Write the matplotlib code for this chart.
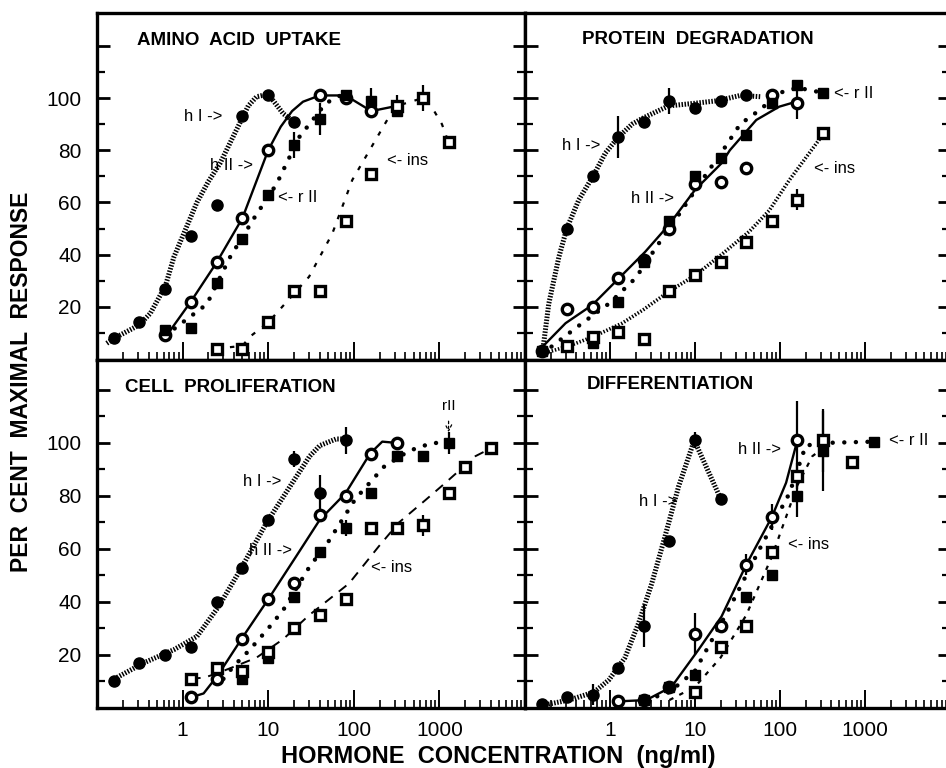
import matplotlib
matplotlib.use("Agg")
import matplotlib.pyplot as plt
from matplotlib.ticker import LogLocator, NullFormatter

plt.rcParams['font.family'] = ['Liberation Sans', 'DejaVu Sans']

# ---- AMINO ACID UPTAKE (top left) ----
aa_hI_x = [0.16, 0.31, 0.63, 1.25, 2.5, 5, 10, 20]
aa_hI_y = [8, 14, 27, 47, 59, 93, 101, 91]
aa_hI_cx = [0.13, 0.16, 0.31, 0.42, 0.63, 0.79, 1.0, 1.47, 2.0, 2.74, 4.0, 5.85, 7.3, 10, 15, 18]
aa_hI_cy = [6, 8, 13, 17.5, 28, 39, 47, 60, 68, 75, 86, 97, 100.5, 101.5, 94, 92]

aa_hII_x = [0.63, 1.25, 2.5, 5, 10, 40, 80, 160]
aa_hII_y = [9, 22, 37, 54, 80, 101, 100, 95]
aa_hII_cx = [0.72, 1.25, 2.5, 5, 10, 14, 19, 25.5, 40, 80, 160, 320]
aa_hII_cy = [11, 22, 37, 54, 80, 89, 95, 98.6, 101, 101, 95, 97]

aa_rII_x = [0.63, 1.25, 2.5, 5, 10, 20, 40, 80, 160, 320]
aa_rII_y = [11, 12, 29, 46, 63, 82, 92, 101, 99, 95]
aa_rII_e = [0, 0, 0, 0, 0, 5, 6, 0, 5, 0]
aa_rII_cx = [0.63, 1.0, 1.92, 3.58, 7, 12.5, 23, 47, 70]
aa_rII_cy = [9, 14, 21, 39, 54.5, 67, 85, 98, 101]

aa_ins_x = [2.5, 5, 10, 20, 40, 80, 160, 320, 640, 1280]
aa_ins_y = [4, 4, 14, 26, 26, 53, 71, 97, 100, 83]
aa_ins_e = [0, 0, 0, 0, 0, 0, 0, 4, 5, 0]
aa_ins_cx = [2.5, 5, 6.1, 10, 20, 30, 56, 96, 180, 260, 320, 640, 800, 1070, 1280]
aa_ins_cy = [4, 5, 8.5, 14, 25, 31.5, 48, 68.6, 84, 93, 97, 100, 97, 90, 83]

# ---- PROTEIN DEGRADATION (top right) ----
pd_hI_x = [0.16, 0.31, 0.63, 1.25, 2.5, 5, 10, 20, 40, 80]
pd_hI_y = [3, 50, 70, 85, 91, 99, 96, 99, 101, 101]
pd_hI_e = [0, 0, 0, 8, 0, 5, 0, 0, 0, 0]
pd_hI_cx = [0.16, 0.19, 0.25, 0.31, 0.43, 0.63, 0.885, 1.25, 1.82, 2.5, 4.9, 10, 18.7, 34, 60]
pd_hI_cy = [2, 21, 39, 50, 61, 70, 79, 85, 90, 92.5, 97, 98, 99, 101, 100.5]

pd_hII_x = [0.16, 0.31, 0.63, 1.25, 2.5, 5, 10, 20, 40, 80, 160]
pd_hII_y = [3, 19, 20, 31, 38, 50, 67, 68, 73, 101, 98]
pd_hII_e = [0, 0, 0, 0, 0, 0, 0, 0, 0, 0, 6]
pd_hII_cx = [0.147, 0.3, 0.62, 1.27, 2.6, 4.9, 10, 20.5, 25.7, 52.6, 98, 155]
pd_hII_cy = [3.4, 13.7, 20.7, 30.9, 41.1, 51.3, 64.8, 75, 80, 91.6, 96.7, 98.6]

pd_rII_x = [0.16, 0.63, 1.25, 2.5, 5, 10, 20, 40, 80, 160, 320]
pd_rII_y = [3, 6, 22, 37, 53, 70, 77, 86, 98, 105, 102]
pd_rII_cx = [0.16, 0.23, 0.47, 0.98, 2, 3.7, 7, 13, 22.4, 34, 57.6, 99, 160, 320]
pd_rII_cy = [2, 6, 13.7, 21.3, 31, 44, 57, 70, 81, 90, 95.4, 102, 104, 102]

pd_ins_x = [0.31, 0.63, 1.25, 2.5, 5, 10, 20, 40, 80, 160, 320]
pd_ins_y = [5, 8.5, 10.5, 7.5, 26, 32, 37, 45, 53, 61, 86.5]
pd_ins_e = [0, 0, 0, 0, 0, 0, 0, 0, 0, 4, 0]
pd_ins_cx = [0.16, 0.33, 0.63, 1.39, 2.5, 5, 10, 20.5, 44, 75, 129, 222, 320]
pd_ins_cy = [2, 5, 8.5, 13.7, 19, 26, 32, 40, 49, 57, 68.6, 79, 86]

# ---- CELL PROLIFERATION (bottom left) ----
cp_hI_x = [0.16, 0.31, 0.63, 1.25, 2.5, 5, 10, 20, 40, 80]
cp_hI_y = [10, 17, 20, 23, 40, 53, 71, 94, 81, 101]
cp_hI_e = [0, 0, 0, 0, 0, 0, 0, 3, 7, 5]
cp_hI_cx = [0.16, 0.35, 0.79, 1.47, 2.6, 4.7, 9.6, 17.9, 30.5, 40, 62, 80]
cp_hI_cy = [11, 17, 22, 27, 38, 52, 70, 83.5, 95, 99, 101.5, 101.5]

cp_hII_x = [1.25, 2.5, 5, 10, 20, 40, 80, 160, 320]
cp_hII_y = [4, 11, 26, 41, 47, 73, 80, 96, 100]
cp_hII_cx = [1.25, 1.76, 2.6, 5.1, 10, 21, 40, 80, 155, 215, 320]
cp_hII_cy = [4, 5.5, 12.5, 27, 41, 57, 71, 81, 96, 100.5, 100]

cp_rII_x = [5, 10, 20, 40, 80, 160, 320, 640, 1280]
cp_rII_y = [11, 19, 42, 59, 68, 81, 95, 95, 100]
cp_rII_e = [0, 0, 0, 0, 3, 0, 0, 0, 4]
cp_rII_cx = [3.0, 3.9, 6.1, 10, 15, 30, 51, 105, 225, 440, 820, 1280]
cp_rII_cy = [11, 15.6, 22, 30, 37, 53, 63, 79, 91, 97, 100, 100]

cp_ins_x = [1.25, 2.5, 5, 10, 20, 40, 80, 160, 320, 640, 1280, 2000, 4000]
cp_ins_y = [11, 15, 14, 21, 30, 35, 41, 68, 68, 69, 81, 91, 98]
cp_ins_e = [0, 0, 0, 0, 0, 0, 0, 0, 0, 4, 0, 0, 0]
cp_ins_cx = [1.25, 1.8, 2.5, 4.3, 7.3, 15, 30, 47, 88, 196, 337, 690, 1180, 2630, 4000]
cp_ins_cy = [11, 11.5, 13, 16, 19, 26, 35, 40, 47, 61, 70, 78.5, 85, 95, 98]

# ---- DIFFERENTIATION (bottom right) ----
df_hI_x = [0.16, 0.31, 0.63, 1.25, 2.5, 5, 10, 20]
df_hI_y = [1.5, 4, 5, 15, 31, 63, 101, 79]
df_hI_e = [0, 0, 4, 0, 8, 2, 3, 0]
df_hI_cx = [0.16, 0.33, 0.65, 0.97, 1.5, 2.17, 3.1, 4.46, 6.4, 9.8, 20]
df_hI_cy = [1, 3, 6, 10.6, 19, 32, 47, 65, 83.5, 101, 79]

df_hII_x = [1.25, 2.5, 5, 10, 20, 40, 80, 160]
df_hII_y = [2.5, 3, 8, 28, 31, 54, 72, 101]
df_hII_e = [0, 0, 0, 8, 0, 4, 5, 15]
df_hII_cx = [1.25, 2.67, 5.3, 11, 20.5, 40, 80, 118, 160]
df_hII_cy = [2.5, 3, 8, 22, 34.5, 54, 72, 85, 101]

df_rII_x = [2.5, 5, 10, 40, 80, 160, 320, 1280]
df_rII_y = [3, 8, 12.5, 42, 50, 80, 97, 100.5]
df_rII_e = [0, 0, 0, 0, 0, 8, 15, 0]
df_rII_cx = [2.67, 5, 10, 25.7, 57.6, 129, 201, 320, 1280]
df_rII_cy = [3, 6, 14, 38, 60, 81, 99, 100, 100.5]

df_ins_x = [10, 20, 40, 80, 160, 320, 700]
df_ins_y = [6, 23, 31, 59, 87.5, 101, 93]
df_ins_e = [0, 0, 0, 0, 5, 12, 0]
df_ins_cx = [5, 10, 20, 40, 80, 160, 240, 320]
df_ins_cy = [3, 8, 19, 35, 57, 84, 95, 98]

y_major = [20, 40, 60, 80, 100, 120]
y_major_labels = ['20', '40', '60', '80', '100', '']
y_minor = [10, 30, 50, 70, 90, 110]
x_major = [0.1, 1, 10, 100, 1000, 10000]
x_major_labels = ['', '1', '10', '100', '1000', '']

markers = {
    'hI': dict(marker='o', ms=8, mfc='black', mec='black', mew=1),
    'hII': dict(marker='o', ms=7.5, mfc='white', mec='black', mew=2.4),
    'rII': dict(marker='s', ms=7, mfc='black', mec='black', mew=1),
    'ins': dict(marker='s', ms=7.5, mfc='white', mec='black', mew=2.4),
}

hatch = dict(ls=(0, (0.3, 0.3)), lw=3.6)
solid = dict(ls='-', lw=1.7)
dots = dict(ls=(0, (0.01, 2.6)), lw=3.2, dash_capstyle='round')


def series(ax, x, y, cx, cy, kind, line, err=None):
    ax.plot(cx, cy, color='black', zorder=2, **line)
    if err is not None:
        xe = [a for a, e in zip(x, err) if e > 0]
        ye = [b for b, e in zip(y, err) if e > 0]
        ee = [e for e in err if e > 0]
        ax.errorbar(xe, ye, yerr=ee, fmt='none', ecolor='black', elinewidth=1.6, capsize=0, zorder=3)
    ax.plot(x, y, ls='none', zorder=4, **markers[kind])


def setup(ax, ylim, left_labels, bottom_labels):
    ax.set_xscale('log')
    ax.set_xlim(0.1, 9500)
    ax.set_ylim(*ylim)
    for s in ax.spines.values():
        s.set_linewidth(2.4)
    ax.set_yticks(y_major)
    ax.set_yticks(y_minor, minor=True)
    ax.set_yticklabels(y_major_labels if left_labels else [''] * len(y_major))
    ax.set_xticks(x_major)
    ax.set_xticklabels(x_major_labels if bottom_labels else [''] * len(x_major))
    ax.xaxis.set_minor_locator(LogLocator(base=10, subs=range(2, 10), numticks=20))
    ax.xaxis.set_minor_formatter(NullFormatter())
    ax.tick_params(axis='y', which='both', direction='in', left=True, right=True)
    ax.tick_params(axis='y', which='major', length=9, width=2.0, pad=11, labelsize=15)
    ax.tick_params(axis='y', which='minor', length=6, width=1.6)
    ax.tick_params(axis='x', which='both', direction='in', top=False, bottom=True)
    ax.tick_params(axis='x', which='major', length=13, width=1.4, pad=9, labelsize=15)
    ax.tick_params(axis='x', which='minor', length=6, width=1.2)


fig = plt.figure(figsize=(9.46, 7.68), dpi=100)
W, H = 946.0, 768.0
ax_aa = fig.add_axes([97 / W, 1 - 360 / H, 428 / W, 347 / H])
ax_pd = fig.add_axes([525 / W, 1 - 360 / H, 425 / W, 347 / H])
ax_cp = fig.add_axes([97 / W, 1 - 708 / H, 428 / W, 348 / H])
ax_df = fig.add_axes([525 / W, 1 - 708 / H, 425 / W, 348 / H])

setup(ax_aa, (-0.4, 132.6), True, False)
setup(ax_pd, (-0.4, 132.6), False, False)
setup(ax_cp, (0, 131.3), True, True)
setup(ax_df, (0, 131.3), False, True)

title_kw = dict(fontsize=13.5, fontweight='bold', va='center', ha='left')
ax_aa.text(0.094, 0.922, 'AMINO  ACID  UPTAKE', transform=ax_aa.transAxes, **title_kw)
ax_pd.text(0.134, 0.925, 'PROTEIN  DEGRADATION', transform=ax_pd.transAxes, **title_kw)
ax_cp.text(0.065, 0.922, 'CELL  PROLIFERATION', transform=ax_cp.transAxes, **title_kw)
ax_df.text(0.146, 0.931, 'DIFFERENTIATION', transform=ax_df.transAxes, **title_kw)

# amino acid uptake
series(ax_aa, aa_hI_x, aa_hI_y, aa_hI_cx, aa_hI_cy, 'hI', hatch)
series(ax_aa, aa_hII_x, aa_hII_y, aa_hII_cx, aa_hII_cy, 'hII', solid)
series(ax_aa, aa_rII_x, aa_rII_y, aa_rII_cx, aa_rII_cy, 'rII', dots, aa_rII_e)
series(ax_aa, aa_ins_x, aa_ins_y, aa_ins_cx, aa_ins_cy, 'ins', dict(ls=(0, (2, 4)), lw=1.6), aa_ins_e)

# protein degradation
series(ax_pd, pd_hI_x, pd_hI_y, pd_hI_cx, pd_hI_cy, 'hI', hatch, pd_hI_e)
series(ax_pd, pd_hII_x, pd_hII_y, pd_hII_cx, pd_hII_cy, 'hII', solid, pd_hII_e)
series(ax_pd, pd_rII_x, pd_rII_y, pd_rII_cx, pd_rII_cy, 'rII', dots)
series(ax_pd, pd_ins_x, pd_ins_y, pd_ins_cx, pd_ins_cy, 'ins', dict(ls=(0, (0.4, 0.5)), lw=2.6), pd_ins_e)

# cell proliferation
series(ax_cp, cp_hI_x, cp_hI_y, cp_hI_cx, cp_hI_cy, 'hI', hatch, cp_hI_e)
series(ax_cp, cp_hII_x, cp_hII_y, cp_hII_cx, cp_hII_cy, 'hII', solid)
series(ax_cp, cp_rII_x, cp_rII_y, cp_rII_cx, cp_rII_cy, 'rII', dots, cp_rII_e)
series(ax_cp, cp_ins_x, cp_ins_y, cp_ins_cx, cp_ins_cy, 'ins', dict(ls=(0, (5, 4)), lw=1.4), cp_ins_e)

# differentiation
series(ax_df, df_hI_x, df_hI_y, df_hI_cx, df_hI_cy, 'hI', hatch, df_hI_e)
series(ax_df, df_hII_x, df_hII_y, df_hII_cx, df_hII_cy, 'hII', solid, df_hII_e)
series(ax_df, df_rII_x, df_rII_y, df_rII_cx, df_rII_cy, 'rII', dots, df_rII_e)
series(ax_df, df_ins_x, df_ins_y, df_ins_cx, df_ins_cy, 'ins', dict(ls=(0, (2, 3)), lw=1.6), df_ins_e)

lab = dict(fontsize=12, va='center')
ax_aa.text(2.95, 93, 'h I ->', ha='right', **lab)
ax_aa.text(6.6, 74, 'h II ->', ha='right', **lab)
ax_aa.text(12.9, 62, '<- r II', ha='left', **lab)
ax_aa.text(245, 76, '<- ins', ha='left', **lab)

ax_pd.text(0.77, 82, 'h I ->', ha='right', **lab)
ax_pd.text(5.6, 61.6, 'h II ->', ha='right', **lab)
ax_pd.text(435, 101.8, '<- r II', ha='left', **lab)
ax_pd.text(253, 73, '<- ins', ha='left', **lab)

ax_cp.text(14.3, 85.4, 'h I ->', ha='right', **lab)
ax_cp.text(19.2, 59.6, 'h II ->', ha='right', **lab)
ax_cp.text(158, 53, '<- ins', ha='left', **lab)
ax_cp.annotate('rII', xy=(1280, 104), xytext=(1280, 114), ha='center', va='center', fontsize=11,
               arrowprops=dict(arrowstyle='->', ls=(0, (2, 2)), lw=0.9, color='black',
                               shrinkA=4, shrinkB=0))

ax_df.text(6.2, 77.8, 'h I ->', ha='right', **lab)
ax_df.text(103, 97.4, 'h II ->', ha='right', **lab)
ax_df.text(123, 61.5, '<- ins', ha='left', **lab)
ax_df.text(1900, 101, '<- r II', ha='left', **lab)

fig.text(0.023, 1 - 382 / H, 'PER  CENT  MAXIMAL  RESPONSE', rotation=90, ha='center', va='center',
         fontsize=16.5, fontweight='bold')
fig.text(498 / W, 1 - 757 / H, 'HORMONE  CONCENTRATION  (ng/ml)', ha='center', va='center',
         fontsize=17, fontweight='bold')

fig.savefig('out.png', dpi=100)
